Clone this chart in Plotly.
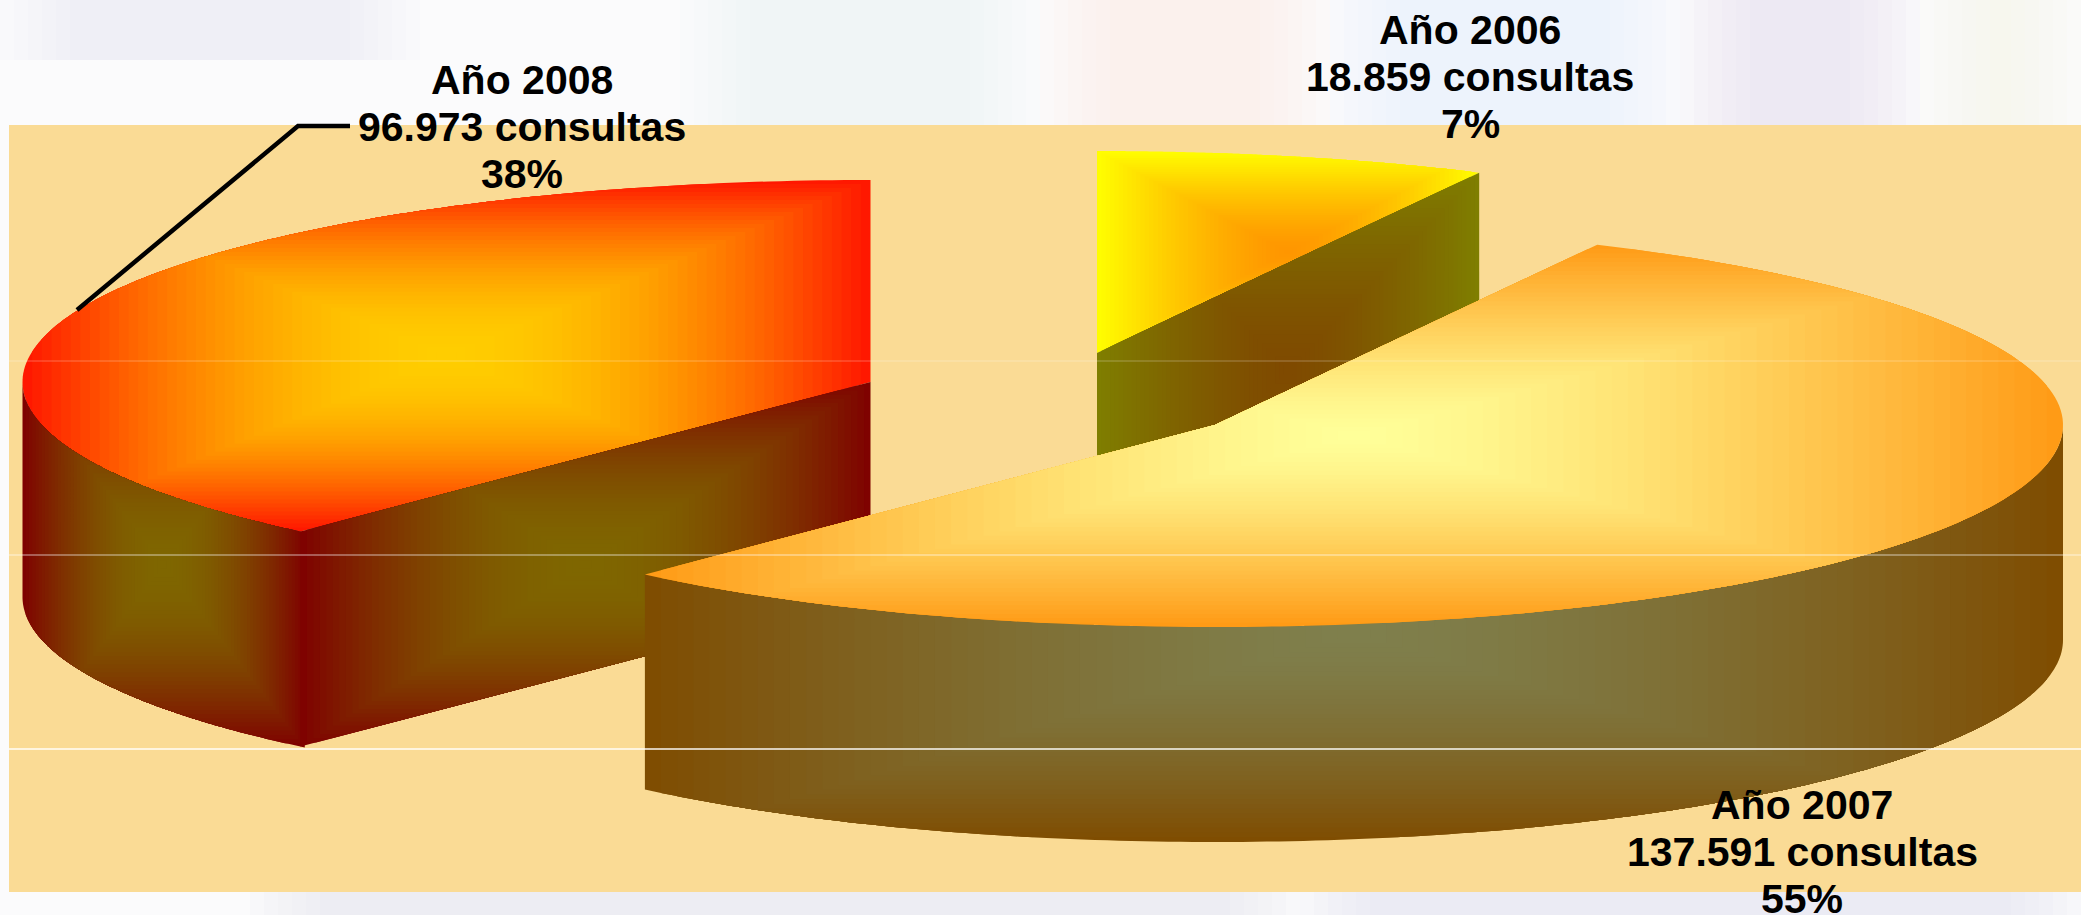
import numpy as np
import plotly.graph_objects as go

# ---- data ----
years = ["Año 2006", "Año 2007", "Año 2008"]
consultas = [18859, 137591, 96973]
consultas_txt = ["18.859 consultas", "137.591 consultas", "96.973 consultas"]
percent_txt = ["7%", "55%", "38%"]

# ---- layout of the exploded pie (pixels of the page) ----
W, H = 2081, 915
A, B, DEPTH = 848, 202, 215
CENTRES = {"Año 2006": (1097, 353), "Año 2007": (1215, 425), "Año 2008": (870.5, 382)}
LABEL_POS = {"Año 2006": (1470, 30), "Año 2007": (1802, 805), "Año 2008": (522, 80)}
LINE_GAP = 47
BG = "#FADB95"
PANEL = (9, 125, 2081, 892)

# angular extents from the values (clockwise from 12 o'clock)
total = sum(consultas)
edges = np.concatenate([[0], np.cumsum(consultas) / total * 360.0])
SPAN = {y: (edges[i], edges[i + 1]) for i, y in enumerate(years)}


def rim(cx, cy, a0, a1, n=160):
    t = np.radians(np.linspace(a0, a1, n))
    return np.column_stack([cx + A * np.sin(t), cy - B * np.cos(t)])


def clip_rect(poly, x0, y0, x1, y1):
    """Sutherland-Hodgman clip of a polygon against a rectangle."""
    planes = [(0, x0, 1), (0, x1, -1), (1, y0, 1), (1, y1, -1)]
    pts = [tuple(p) for p in poly]
    for ax, lim, sign in planes:
        out = []
        for i in range(len(pts)):
            p, q = pts[i], pts[(i + 1) % len(pts)]
            dp, dq = sign * (p[ax] - lim), sign * (q[ax] - lim)
            if dp >= 0:
                out.append(p)
            if dp * dq < 0:
                s = dp / (dp - dq)
                out.append((p[0] + s * (q[0] - p[0]), p[1] + s * (q[1] - p[1])))
        pts = out
        if not pts:
            return None
    return np.array(pts)


fig = go.Figure()


def face(poly, edge, centre, steps=44, bbox=None, ease=1.9):
    """Rectangular 'path' gradient: nested clips of the polygon, outer to inner."""
    x0, y0 = poly.min(axis=0)
    x1, y1 = poly.max(axis=0)
    if bbox:
        x0, y0, x1, y1 = bbox
    mx, my = (x0 + x1) / 2, (y0 + y1) / 2
    hx, hy = (x1 - x0) / 2, (y1 - y0) / 2
    for k in range(steps):
        t = 1 - k / steps
        c = clip_rect(poly, mx - hx * t, my - hy * t, mx + hx * t, my + hy * t)
        if c is None or len(c) < 3:
            continue
        f = 1 - (1 - (k + 0.5) / steps) ** ease
        col = [round(e + (m - e) * f) for e, m in zip(edge, centre)]
        fig.add_trace(go.Scatter(
            x=np.append(c[:, 0], c[0, 0]), y=np.append(c[:, 1], c[0, 1]),
            mode="none", fill="toself", fillcolor=f"rgb({col[0]},{col[1]},{col[2]})",
            hoverinfo="skip", showlegend=False))


def top_face(y):
    cx, cy = CENTRES[y]
    a0, a1 = SPAN[y]
    return np.vstack([[(cx, cy)], rim(cx, cy, a0, a1)])


def outer_side(y, a0, a1):
    cx, cy = CENTRES[y]
    r = rim(cx, cy, a0, a1)
    return np.vstack([r, (r + [0, DEPTH])[::-1]])


def cut_side(y, angle):
    cx, cy = CENTRES[y]
    p = rim(cx, cy, angle, angle, 1)[0]
    return np.array([(cx, cy), tuple(p), (p[0], p[1] + DEPTH), (cx, cy + DEPTH)])


# 2006 (furthest back)
y06 = years[0]
face(top_face(y06), (255, 255, 0), (255, 150, 0), ease=1.4)
face(cut_side(y06, SPAN[y06][1]), (127, 127, 0), (127, 74, 0), ease=1.4)

# 2008
y08 = years[2]
face(top_face(y08), (255, 20, 0), (255, 205, 0))
s = outer_side(y08, SPAN[y08][0] - 0.4, 270)
face(s, (127, 0, 0), (127, 102, 0),
     bbox=(s[:, 0].min(), CENTRES[y08][1], s[:, 0].max(), s[:, 1].max()))
s = cut_side(y08, SPAN[y08][0])
face(s, (127, 0, 0), (127, 102, 0),
     bbox=(s[:, 0].min(), CENTRES[y08][1], s[:, 0].max(), s[:, 1].max()))

# 2007 (in front)
y07 = years[1]
s = outer_side(y07, 90, SPAN[y07][1])
face(s, (127, 76, 0), (127, 127, 76), ease=1.5,
     bbox=(s[:, 0].min(), CENTRES[y07][1], s[:, 0].max(), s[:, 1].max()))
face(top_face(y07), (255, 153, 20), (255, 255, 153), ease=1.35)

# leader line of the 2008 label
fig.add_trace(go.Scatter(x=[77, 298, 350], y=[310, 126, 126], mode="lines",
                         line=dict(color="black", width=4.5), hoverinfo="skip", showlegend=False))

# labels
for i, y in enumerate(years):
    lx, ly = LABEL_POS[y]
    for j, line in enumerate([y, consultas_txt[i], percent_txt[i]]):
        fig.add_annotation(x=lx, y=ly + j * LINE_GAP, text=f"<b>{line}</b>", showarrow=False,
                           xanchor="center", yanchor="middle", height=30, valign="middle",
                           font=dict(family="Liberation Sans", size=41, color="black"))

# backdrop: pale smudged page (soft-edged patches) and the tan panel
patches = [
    (0, 0, 420, 60, (222, 222, 226, 0.30)), (1040, 0, 1330, 125, (250, 236, 222, 0.55)),
    (1330, 0, 1680, 125, (230, 238, 252, 0.70)), (1680, 0, 1920, 125, (224, 220, 240, 0.65)),
    (1920, 0, 2081, 125, (250, 248, 232, 0.70)), (680, 0, 1040, 125, (233, 236, 248, 0.45)),
    (250, 892, 1300, 915, (230, 230, 232, 0.60)), (1300, 892, 2081, 915, (226, 224, 238, 0.85)),
]
FEATHER, SOFT = 6, 14
shapes = []
for a, b, c, d, (r_, g_, b_, al) in patches:
    for n in range(FEATHER):
        inset = n * SOFT
        shapes.append(dict(type="rect", layer="below", x0=a + inset, y0=b, x1=c - inset, y1=d,
                           fillcolor=f"rgba({r_},{g_},{b_},{al / FEATHER:.3f})", line_width=0))
shapes.append(dict(type="rect", layer="below", x0=PANEL[0], y0=PANEL[1], x1=PANEL[2], y1=PANEL[3],
                   fillcolor=BG, line_width=0))
# faint gridlines that run over the chart
for gy, alpha in [(361, 0.2), (555, 0.45), (749, 0.95)]:
    shapes.append(dict(type="line", layer="above", x0=PANEL[0], x1=PANEL[2], y0=gy, y1=gy,
                       line=dict(color=f"rgba(255,255,255,{alpha})", width=1.5)))

fig.update_layout(
    width=W, height=H, margin=dict(l=0, r=0, t=0, b=0), paper_bgcolor="#FBFBFC",
    plot_bgcolor="rgba(0,0,0,0)", shapes=shapes, showlegend=False,
    xaxis=dict(range=[0, W], visible=False, fixedrange=True),
    yaxis=dict(range=[H, 0], visible=False, fixedrange=True),
)
fig.write_html("out.html", config={"displayModeBar": False},
               post_script="document.body.style.margin='0';document.body.style.overflow='hidden';")
